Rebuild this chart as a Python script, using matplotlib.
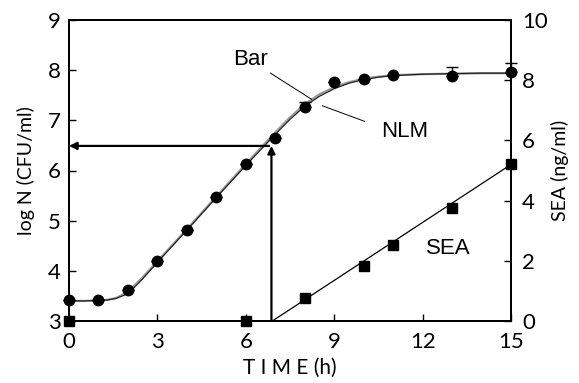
import matplotlib
matplotlib.use("Agg")
import matplotlib.pyplot as plt

# ---------------------------------------------------------------------------
# data
time_n = [0, 1, 2, 3, 4, 5, 6, 7, 8, 9, 10, 11, 13, 15]
log_n = [3.42, 3.42, 3.62, 4.20, 4.82, 5.48, 6.13, 6.65, 7.26, 7.76, 7.82, 7.90, 7.88, 7.96]
log_n_err = [0, 0, 0, 0, 0, 0, 0, 0, 0.10, 0, 0, 0, 0.18, 0.18]

time_sea = [0, 6, 8, 10, 11, 13, 15]
sea = [0.0, 0.0, 0.75, 1.84, 2.52, 3.74, 5.20]

# fitted curves, points
curve_t = [0, 0.5, 1.0, 1.3, 1.6, 1.9, 2.2, 2.5, 3.0, 4.0, 5.0, 6.0, 7.0,
           7.5, 8.0, 8.5, 9.0, 9.5, 10.0, 10.5, 11.0, 12.0, 13.0, 14.0, 15.0]
nlm_y = [3.40, 3.40, 3.41, 3.42, 3.45, 3.52, 3.66, 3.84, 4.17, 4.81, 5.46, 6.10, 6.72,
         7.02, 7.28, 7.48, 7.63, 7.74, 7.81, 7.86, 7.89, 7.92, 7.93, 7.94, 7.94]
bar_y = [3.40, 3.40, 3.41, 3.42, 3.46, 3.55, 3.70, 3.87, 4.19, 4.83, 5.48, 6.13, 6.76,
         7.06, 7.32, 7.52, 7.66, 7.76, 7.83, 7.87, 7.90, 7.92, 7.93, 7.94, 7.94]

sea_fit_t = [6.9, 15.0]
sea_fit_y = [0.0, 5.20]

# lag read-off arrows
t_cross = 6.87
n_cross = 6.49

# ---------------------------------------------------------------------------
tick_font = "Lato"
label_font = "Liberation Sans"

fig = plt.figure(figsize=(5.79, 3.83), dpi=100)
ax = fig.add_axes([69 / 579, 1 - 321 / 383, (511 - 69) / 579, (321 - 20) / 383])
ax2 = ax.twinx()

# ---------------------------------------------------------------------------
ax.plot(curve_t, bar_y, color="#9a9a9a", lw=1.6, zorder=2)
ax.plot(curve_t, nlm_y, color="#222222", lw=0.9, zorder=3)
ax.errorbar(time_n, log_n, yerr=[[0] * len(log_n_err), log_n_err], fmt="o",
            color="black", ms=7.5, elinewidth=1.0, capsize=4, capthick=1.0,
            zorder=5, clip_on=False)

ax.annotate("", xy=(0, n_cross), xytext=(t_cross - 0.08, n_cross),
            arrowprops=dict(arrowstyle="-|>", color="black", lw=1.6,
                            mutation_scale=11, shrinkA=0, shrinkB=0))
ax.annotate("", xy=(t_cross, n_cross), xytext=(t_cross, 3),
            arrowprops=dict(arrowstyle="-|>", color="black", lw=1.6,
                            mutation_scale=11, shrinkA=0, shrinkB=0))

ax.text(5.58, 8.10, "Bar", fontsize=16, family=label_font)
ax.plot([6.84, 8.23], [7.94, 7.42], color="black", lw=0.7)
ax.text(10.58, 6.67, "NLM", fontsize=16, family=label_font)
ax.plot([8.6, 10.03], [7.29, 6.98], color="black", lw=0.7)

ax2.plot(sea_fit_t, sea_fit_y, color="black", lw=0.9, zorder=3)
ax2.plot(time_sea, sea, "s", color="black", ms=7, zorder=5, clip_on=False)
ax2.text(12.1, 2.23, "SEA", fontsize=16, family=label_font)

# ---------------------------------------------------------------------------
ax.set_xlim(0, 15)
ax.set_ylim(3, 9)
ax2.set_ylim(0, 10)
ax.set_xticks([0, 3, 6, 9, 12, 15])
ax.set_yticks([3, 4, 5, 6, 7, 8, 9])
ax2.set_yticks([0, 2, 4, 6, 8, 10])

for a in (ax, ax2):
    for s in a.spines.values():
        s.set_linewidth(1.3)
    a.tick_params(direction="in", length=5, width=1.0, labelsize=16)
    for lab in a.get_xticklabels() + a.get_yticklabels():
        lab.set_family(tick_font)
ax.tick_params(axis="x", pad=8)
ax.tick_params(axis="y", pad=6)
ax2.tick_params(axis="y", pad=8)

ax.set_xlabel("T I M E (h)", fontsize=15, family=tick_font, labelpad=4)
ax.set_ylabel("log N (CFU/ml)", fontsize=14, family=tick_font, labelpad=9)
ax2.set_ylabel("SEA (ng/ml)", fontsize=14, family=tick_font, labelpad=2)

fig.savefig("out.png", dpi=100)
